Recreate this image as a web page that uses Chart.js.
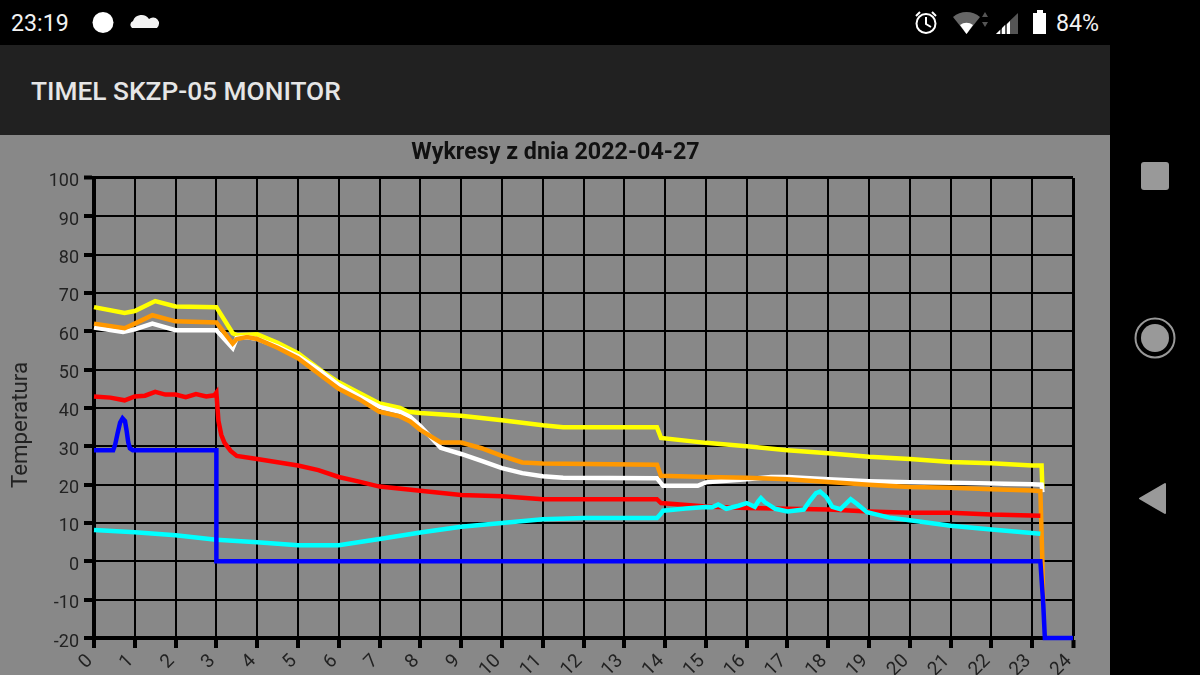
<!DOCTYPE html>
<html lang="pl">
<head>
<meta charset="utf-8">
<title>TIMEL SKZP-05 MONITOR</title>
<script src="https://cdn.jsdelivr.net/npm/chart.js@4"></script>
<style>
    html, body { margin: 0; padding: 0; background: #000; }
    body { width: 1200px; height: 675px; overflow: hidden; position: relative; font-family: Roboto, sans-serif; }
    #pasek { position: absolute; left: 0; top: 0; width: 1200px; height: 45px; background: #000; color: #fff; }
    #pasek span { position: absolute; top: 9px; font-size: 23.2px; line-height: 28px; color: #f2f2f2; }
    #aplikacja { position: absolute; left: 0; top: 45px; width: 1110px; height: 90px; background: #212121; }
    #aplikacja span { position: absolute; left: 31px; top: 30px; font-size: 26.3px; line-height: 32px; font-weight: 500; color: #e6e6e6; }
    #tlo { position: absolute; left: 0; top: 135px; width: 1110px; height: 540px; background: #888; }
    canvas { position: absolute; left: 0; top: 0; }
    svg { position: absolute; left: 0; top: 0; }
</style>
</head>
<body>
<div id="pasek"><span style="left:11px">23:19</span><span style="left:1056px">84%</span></div>
<div id="aplikacja"><span>TIMEL SKZP-05 MONITOR</span></div>
<div id="tlo"><canvas id="wykres" width="1110" height="540"></canvas></div>
<svg width="1200" height="675" style="pointer-events:none">
    <!-- ikony paska stanu -->
    <circle cx="103" cy="22.5" r="10.5" fill="#fff"/>
    <path d="M132 28 a4 4 0 0 1 1 -7 a9 9 0 0 1 16 -2 a5.5 5.5 0 0 1 8 9 z" fill="#f2f2f2"/>
    <circle cx="926" cy="23.5" r="9.5" fill="none" stroke="#fff" stroke-width="2"/>
    <path d="M926 17 v7 l5 3" fill="none" stroke="#fff" stroke-width="2"/>
    <path d="M916 16 l4 -4 M936 16 l-4 -4" stroke="#fff" stroke-width="2"/>
    <path d="M953 17 a21 21 0 0 1 27 0 l-13.5 17 z" fill="#666"/>
    <path d="M960 25 a11 11 0 0 1 13 0 l-6.5 9 z" fill="#fff"/>
    <path d="M985 12 l3 5 h-6 z M985 27 l3 -5 h-6 z" fill="#555"/>
    <path d="M996 34 L1018 13 V34 z" fill="#555"/>
    <path d="M996 34 l4 -4 v4 z M1002 34 v-6 l3 -3 v9 z M1007 34 v-10 l3 -3 v13 z" fill="#fff"/>
    <path d="M1033 13 h4 v-3 h6 v3 h3 v21 h-13 z" fill="#fff"/>
    <!-- przyciski nawigacji -->
    <rect x="1141" y="162" width="28" height="28" rx="3" fill="#999"/>
    <circle cx="1155" cy="338" r="19.5" fill="none" stroke="#999" stroke-width="2"/>
    <circle cx="1155" cy="338" r="14" fill="#999"/>
    <path d="M1140 498.5 L1165 484 V513 z" fill="#999" stroke="#999" stroke-width="2" stroke-linejoin="round"/>
</svg>
<script>
const tytul = 'Wykresy z dnia 2022-04-27';
const tytulOsiY = 'Temperatura';
const zakresX = [0, 24];
const zakresY = [-20, 100];

const godzinyNiebieski = [0, 0.47, 0.52, 0.58, 0.64, 0.7, 0.76, 0.8, 0.84, 0.88, 0.95, 3.0, 3.0, 23.2, 23.27, 23.31, 24];
const niebieski = [29, 29, 30.5, 33.5, 36.2, 37.3, 36.6, 34, 31, 29.5, 29, 29, 0, 0, -11, -20, -20];

const godzinyCyjan = [0, 1, 2, 3, 4, 5, 6, 7, 8, 9, 10, 11, 12, 13.8, 13.88, 13.95, 14.5, 15, 15.15, 15.3, 15.5, 15.8, 16, 16.2, 16.28, 16.35, 16.45, 16.7, 17, 17.4, 17.55, 17.7, 17.8, 17.95, 18.1, 18.3, 18.45, 18.55, 18.7, 18.95, 19.5, 20, 21, 22, 23.2];
const cyjan = [8.2, 7.6, 6.8, 5.6, 5, 4.2, 4.2, 5.8, 7.5, 9, 10, 11, 11.3, 11.3, 12.2, 13.2, 13.8, 14.2, 14.1, 14.8, 13.7, 14.5, 15.2, 14.2, 15.6, 16.5, 15.4, 13.7, 13, 13.5, 15.8, 17.8, 18.2, 16.8, 14.2, 13.6, 15.2, 16.2, 15, 12.8, 11.4, 10.7, 9.3, 8.3, 7.2];

const godzinyCzerwony = [0, 0.4, 0.75, 1, 1.25, 1.5, 1.75, 2, 2.25, 2.5, 2.75, 2.95, 3.0, 3.05, 3.12, 3.2, 3.35, 3.5, 4, 5, 5.5, 6, 6.5, 7, 8, 9, 10, 11, 13.8, 13.9, 15, 16, 17, 18, 19, 20, 21, 22, 23.2];
const czerwony = [43, 42.7, 42, 43, 43.2, 44.2, 43.5, 43.5, 42.8, 43.6, 43, 43.3, 44, 36.7, 33, 30.9, 28.8, 27.5, 26.7, 25, 23.8, 22, 20.8, 19.5, 18.4, 17.3, 17, 16.2, 16.2, 15.2, 14.3, 13.9, 13.7, 13.5, 13, 12.7, 12.7, 12.2, 11.9];

const godzinyPomaranczowy = [0, 0.75, 1, 1.43, 2, 3, 3.4, 3.5, 3.75, 4, 4.5, 5, 5.5, 6, 6.5, 7, 7.5, 7.75, 8, 8.5, 9, 9.5, 10, 10.5, 11, 13.8, 13.9, 15, 16, 17, 18, 19, 20, 21, 22, 23, 23.2, 23.25, 23.27];
const pomaranczowy = [62, 60.8, 62, 64.2, 62.6, 62.3, 56.8, 58, 58.5, 58, 55.7, 53, 49, 45, 42.3, 39, 37.8, 36.5, 34.3, 31, 31, 29.5, 27.5, 25.8, 25.5, 25.2, 22.3, 22, 21.8, 21.4, 20.7, 20, 19.4, 19.2, 18.8, 18.5, 18.3, 0, -11];

const godzinyBialy = [0, 0.71, 1, 1.43, 2, 3, 3.4, 3.5, 3.75, 4, 4.5, 5, 5.5, 6, 6.5, 7, 7.5, 7.75, 8, 8.5, 9, 9.5, 10, 10.5, 11, 11.5, 13.8, 13.95, 14.8, 15, 16, 16.6, 17, 18, 19, 20, 21, 22, 23, 23.23, 23.25];
const bialy = [61, 59.8, 60.5, 62, 60.3, 60.3, 55.6, 58.2, 58.5, 58, 56, 53.5, 50, 46, 43, 40.3, 39, 37.7, 35.3, 29.6, 28, 26.2, 24.3, 23, 22.2, 21.8, 21.7, 19.7, 19.7, 20.6, 21.4, 22, 22, 21.4, 20.9, 20.6, 20.5, 20.3, 20.1, 20, 18];

const godzinyZolty = [0, 0.75, 1, 1.5, 2, 3, 3.4, 3.5, 4, 4.5, 5, 5.6, 6, 7, 7.5, 7.7, 8, 9, 10, 11, 11.5, 13.8, 13.9, 15, 16, 17, 18, 19, 20, 21, 22, 23, 23.23, 23.25];
const zolty = [66.3, 64.8, 65.3, 67.9, 66.5, 66.3, 59.5, 59, 59.2, 57, 54.3, 49.5, 46.7, 41.2, 40, 39, 38.7, 38, 36.8, 35.5, 35, 35, 32.2, 30.9, 30, 29, 28.2, 27.3, 26.7, 25.9, 25.6, 25, 25, 19];

// Skleja godziny z wartosciami w punkty dla wykresu
function punkty(godziny, wartosci) {
    return godziny.map((h, i) => ({ x: h, y: wartosci[i] }));
}

function seria(godziny, wartosci, kolor) {
    return {
        data: punkty(godziny, wartosci),
        borderColor: kolor,
        borderWidth: 4.5,
        pointRadius: 0,
        tension: 0,
        clip: false
    };
}

// Napis osi Y siedzi nizej niz srodek osi, a tytul jest na srodku calego tla, nie obszaru wykresu
const poprawkiNapisow = {
    id: 'poprawkiNapisow',
    afterLayout(chart) {
        chart.titleBlock.left += 19;
        chart.titleBlock.right += 19;
    },
    afterDraw(chart) {
        const ctx = chart.ctx;
        ctx.save();
        ctx.translate(21, 290);
        ctx.rotate(-Math.PI / 2);
        ctx.font = '22.3px Roboto';
        ctx.fillStyle = '#222';
        ctx.textAlign = 'center';
        ctx.textBaseline = 'middle';
        ctx.fillText(tytulOsiY, 0, 0);
        ctx.restore();
    }
};

new Chart(document.getElementById('wykres'), {
    type: 'line',
    data: {
        // pierwszy zestaw rysowany jest na wierzchu
        datasets: [
            seria(godzinyNiebieski, niebieski, '#0000ff'),
            seria(godzinyCyjan, cyjan, '#00ffff'),
            seria(godzinyCzerwony, czerwony, '#ff0000'),
            seria(godzinyPomaranczowy, pomaranczowy, '#ff9800'),
            seria(godzinyBialy, bialy, '#ffffff'),
            seria(godzinyZolty, zolty, '#ffff00')
        ]
    },
    plugins: [poprawkiNapisow],
    options: {
        responsive: false,
        animation: false,
        layout: { padding: { left: 0, right: 37, top: 0, bottom: 0 } },
        plugins: {
            legend: { display: false },
            tooltip: { enabled: false },
            title: {
                display: true,
                text: tytul,
                color: '#111',
                font: { family: 'Roboto', size: 23.3, weight: 'bold' },
                padding: { top: 4, bottom: 11 }
            }
        },
        scales: {
            x: {
                type: 'linear',
                min: zakresX[0],
                max: zakresX[1],
                afterFit(scale) { scale.height = 37; },
                ticks: {
                    stepSize: 1,
                    minRotation: 45,
                    maxRotation: 45,
                    padding: 2,
                    labelOffset: -4,
                    color: '#222',
                    font: { family: 'Roboto', size: 19 }
                },
                grid: {
                    color: '#000',
                    tickColor: '#000',
                    tickLength: 10,
                    tickWidth: 4,
                    lineWidth: c => (c.tick && c.tick.value === zakresX[1] ? 3 : 2)
                },
                border: { color: '#000', width: 4 }
            },
            y: {
                min: zakresY[0],
                max: zakresY[1],
                afterFit(scale) { scale.width = 94; },
                ticks: {
                    stepSize: 10,
                    padding: 5,
                    labelOffset: 4,
                    color: '#222',
                    font: { family: 'Roboto', size: 18 }
                },
                grid: {
                    color: '#000',
                    tickColor: '#000',
                    tickLength: 10,
                    tickWidth: 4,
                    lineWidth: c => (c.tick && c.tick.value === zakresY[1] ? 3 : 2)
                },
                border: { color: '#000', width: 4 }
            }
        }
    }
});
</script>
</body>
</html>
